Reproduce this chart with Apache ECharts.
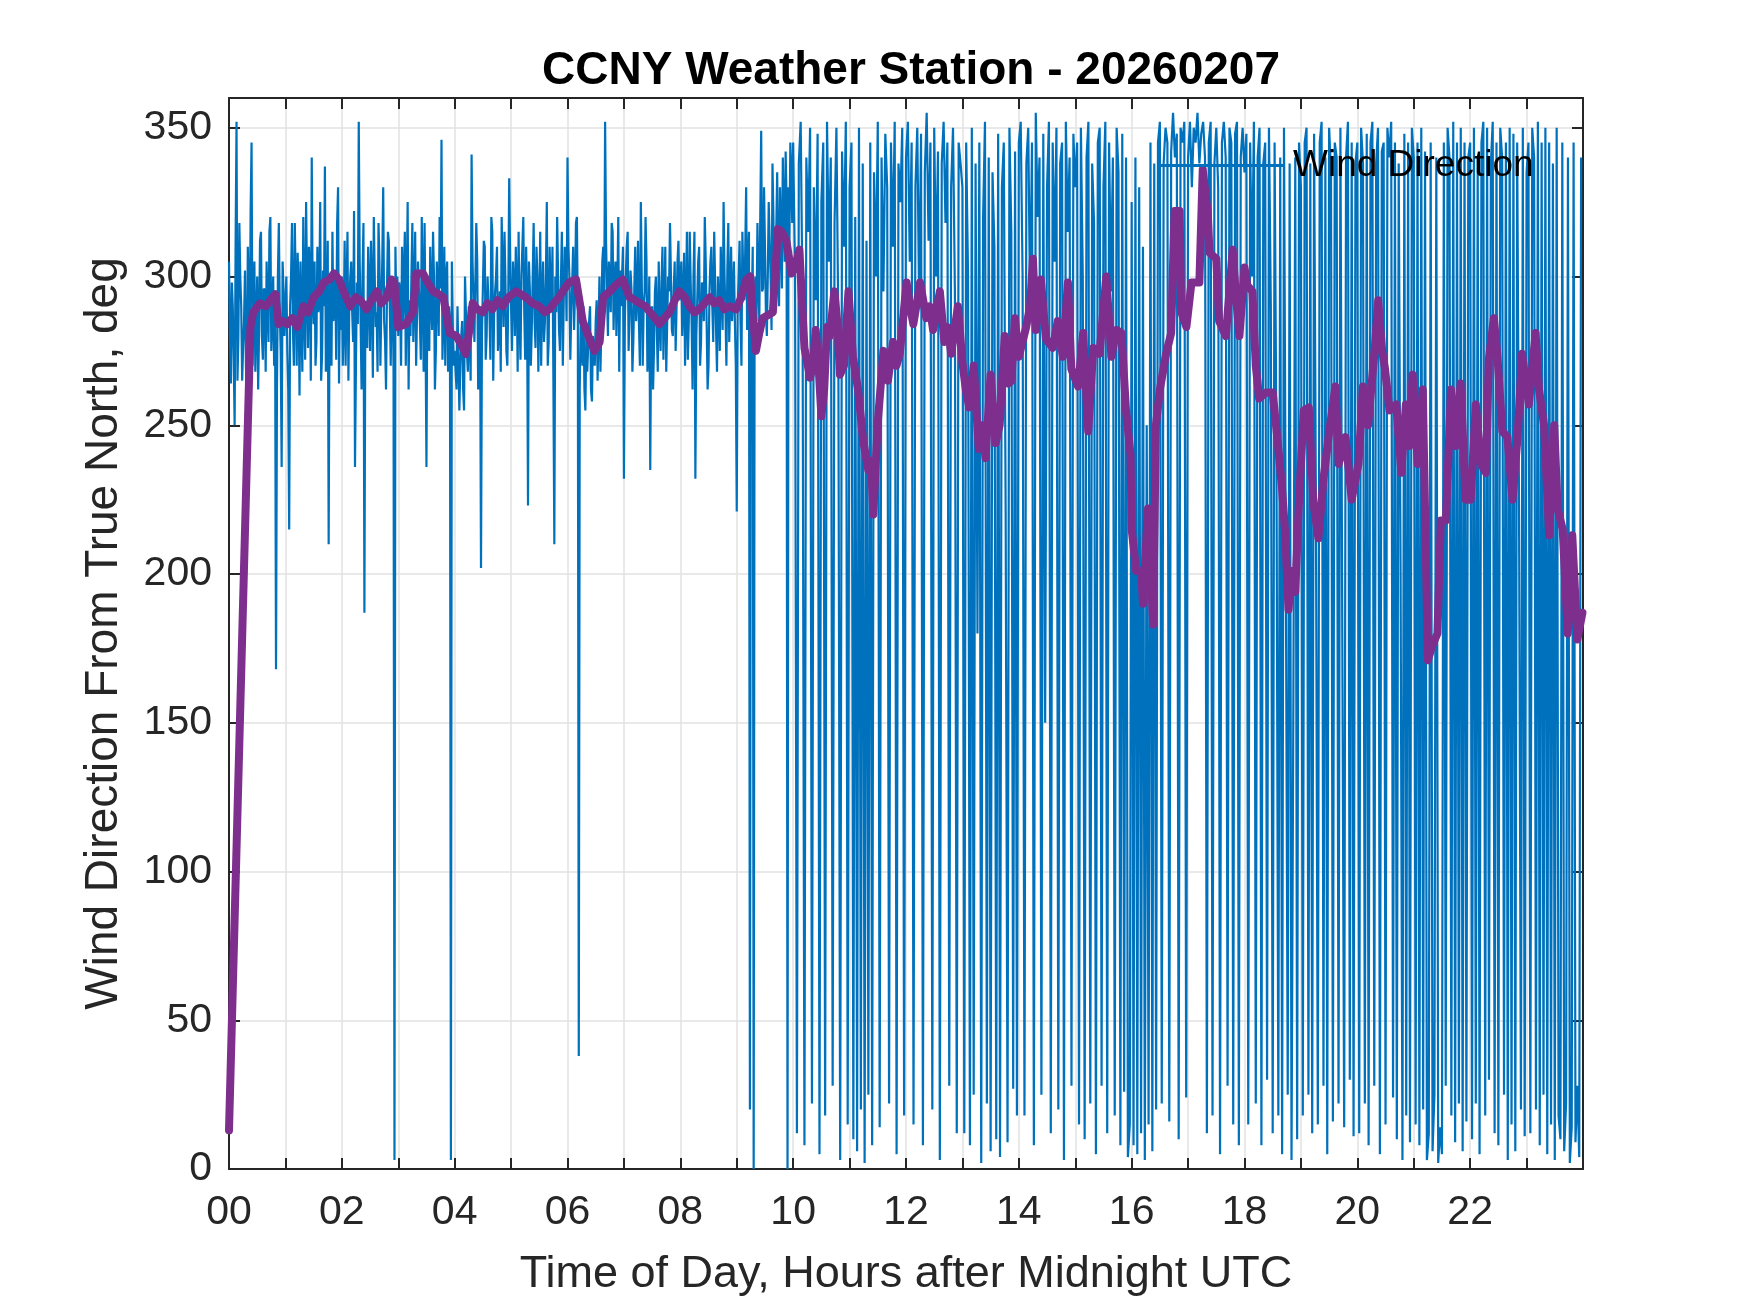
<!DOCTYPE html>
<html><head><meta charset="utf-8">
<script src="https://cdn.jsdelivr.net/npm/echarts@6/dist/echarts.min.js"></script>
<style>html,body{margin:0;padding:0;background:#fff}#c{width:1750px;height:1313px}</style>
</head><body><div id="c"></div>
<script>
const titleText = 'CCNY Weather Station - 20260207';
const xTickLabels = ['00','02','04','06','08','10','12','14','16','18','20','22'];
const yTickLabels = [0,50,100,150,200,250,300,350];

// raw wind direction, 1-minute samples from 00:00 to 09:59
const windDirEarly = [
305,280,264,298,290,272,250,310,352,265,280,318,300,290,265,276,285,302,270,258,310,295,275,322,345,270,290,305,268,285,300,262,282,312,315,280,272,296,295,268,305,290,278,315,320,275,285,300,270,288,168,262,300,318,288,275,236,305,295,280,
290,300,275,262,215,290,300,318,282,270,318,295,270,308,295,260,305,285,268,320,288,272,325,298,276,310,300,265,340,292,284,305,270,278,310,288,292,325,265,274,302,290,337,268,280,312,210,296,298,270,315,285,285,300,272,318,330,264,295,282,
300,270,285,312,270,295,315,265,292,300,305,288,278,322,236,270,298,284,352,305,284,262,300,318,187,290,290,276,310,295,275,312,296,266,320,300,283,288,268,318,305,270,290,305,330,285,278,262,295,315,312,290,270,296,300,268,3,310,288,300,
280,298,295,270,310,285,285,315,270,296,325,262,292,280,300,318,278,292,315,270,288,305,305,285,272,320,296,268,318,282,236,300,290,275,310,292,282,315,300,262,275,305,295,280,320,296,346,272,285,310,270,300,305,268,290,285,3,305,284,270,
275,268,262,290,290,255,270,280,285,262,255,300,300,275,268,290,280,265,341,305,292,278,278,318,305,262,285,290,202,280,296,312,310,272,280,300,290,288,272,320,315,265,288,295,300,310,275,282,295,268,320,300,283,315,298,275,270,292,333,305,
290,275,305,298,280,310,296,268,315,285,272,300,300,320,288,272,310,292,223,305,295,270,282,300,318,285,276,310,300,268,290,315,270,292,305,278,285,300,325,270,278,310,295,288,310,265,210,300,288,320,300,282,275,298,315,270,292,310,305,285,
340,310,300,272,288,298,310,282,295,318,320,285,38,262,285,275,270,290,262,255,280,268,268,285,290,262,258,280,275,270,285,292,265,282,300,268,282,305,310,290,352,312,295,280,305,298,288,318,315,282,298,305,280,296,320,268,302,290,290,310,
232,285,300,310,315,275,288,302,296,268,278,295,310,285,292,312,284,270,325,298,270,290,295,320,305,268,280,300,235,285,290,262,276,295,300,282,268,305,285,275,298,310,272,290,310,268,284,300,295,318,318,282,280,296,305,275,290,305,312,292,
295,305,280,292,308,270,290,315,272,285,315,298,285,262,300,315,232,280,292,305,310,270,278,298,296,285,320,305,284,262,270,295,305,310,290,278,315,298,282,268,300,290,275,310,295,282,325,300,288,270,302,318,278,292,310,285,292,305,285,270,
221,290,300,312,285,270,315,298,292,308,330,282,305,315,20,285,290,310,0,296,300,285,318,300,285,320,349,295,296,330,310,288,280,300,325,312,300,282,338,320,290,300,315,335,305,290,330,315,296,340,320,305,342,325,0,330,310,345,335,318
];
// raw wind direction, 2-minute samples from 10:00 to 23:58
const windDirLate = [
345,300,12,338,352,290,8,340,315,350,22,330,292,348,5,325,345,18,352,305,340,28,318,350,285,3,342,310,352,15,
330,345,10,320,6,350,20,338,2,312,25,345,8,335,300,352,14,340,295,348,330,22,345,310,352,5,338,325,350,18,
340,352,305,345,15,330,350,290,348,8,335,355,312,345,20,350,300,342,3,338,352,318,345,28,330,350,295,12,345,338,
330,12,345,300,8,350,25,338,180,345,2,320,352,22,340,6,335,310,10,348,4,330,345,220,9,350,315,27,342,18,
345,352,300,18,338,350,290,345,8,355,320,340,25,348,150,330,352,12,345,305,350,20,338,345,3,352,315,340,28,348,
330,345,15,350,300,10,340,352,22,338,318,5,345,350,28,330,352,12,345,295,340,18,350,335,8,348,26,340,4,15,
325,8,340,5,330,12,310,3,250,15,345,6,338,20,345,352,22,338,350,345,16,342,355,340,348,10,350,345,352,24,
340,352,330,350,345,355,338,348,352,340,12,345,352,18,338,350,330,5,345,352,340,28,350,345,15,348,352,8,340,350,
335,348,15,345,300,352,22,340,350,8,338,345,30,350,290,12,345,240,18,340,5,350,200,25,338,3,160,340,10,345,
330,18,345,350,25,338,12,348,220,15,345,352,28,340,5,350,335,16,345,340,22,350,180,14,340,352,30,345,11,338,
345,12,350,338,22,348,8,345,352,28,338,350,5,342,345,15,350,340,352,24,345,10,338,200,3,348,18,345,9,350,
340,15,345,8,350,20,342,3,12,345,6,25,340,2,14,5,345,28,350,340,18,352,9,345,22,350,6,345,16,340,
345,10,350,22,340,5,345,352,18,350,30,338,352,12,345,8,350,340,25,345,3,350,15,348,6,345,220,20,350,11,
335,345,12,350,340,20,352,8,345,25,350,5,345,15,338,3,350,18,10,345,6,22,340,2,14,345,9,28,4,340
];
const earlyStepMin = 1;
const lateStartMin = 600;
const lateStepMin = 2;

// smoothed wind direction (purple)
const meanHours = [
0,0.38,0.43,0.55,0.65,0.73,0.82,0.88,0.95,1.03,1.12,1.21,1.32,1.4,1.5,1.6,1.68,1.78,1.86,1.95,
2.03,2.15,2.25,2.33,2.44,2.52,2.62,2.7,2.8,2.88,2.93,3.0,3.14,3.26,3.32,3.44,3.52,3.62,3.72,3.8,3.91,
4.03,4.12,4.2,4.26,4.32,4.4,4.5,4.58,4.67,4.76,4.85,4.95,5.09,5.18,5.26,5.38,5.5,5.6,5.68,5.76,5.85,5.95,
6.03,6.15,6.27,6.39,6.48,6.57,6.63,6.75,6.85,6.98,7.1,7.2,7.28,7.38,7.46,7.55,7.63,7.72,7.81,7.9,7.98,
8.08,8.16,8.25,8.34,8.43,8.52,8.6,8.69,8.78,8.87,8.99,9.08,9.17,9.24,9.28,9.34,9.4,9.46,9.55,9.64,9.73,9.8,9.88,9.97,
10.03,10.11,10.2,10.3,10.35,10.4,10.45,10.5,10.55,10.6,10.65,10.73,10.78,10.83,10.9,10.98,
11.06,11.15,11.24,11.33,11.38,11.42,11.5,11.6,11.68,11.77,11.83,11.89,
12.01,12.07,12.13,12.2,12.25,12.36,12.42,12.48,12.6,12.68,12.74,12.8,12.92,
13.0,13.06,13.12,13.2,13.29,13.35,13.41,13.5,13.59,13.66,13.75,13.82,13.87,13.93,
14.0,14.13,14.2,14.25,14.3,14.39,14.48,14.6,14.69,14.78,14.87,14.93,
15.05,15.14,15.23,15.32,15.43,15.55,15.64,15.73,15.82,15.9,15.98,
16.0,16.08,16.17,16.2,16.29,16.38,16.43,16.5,16.61,16.7,16.76,16.85,16.88,16.97,
17.06,17.2,17.26,17.35,17.38,17.5,17.55,17.67,17.79,17.85,17.91,
18.0,18.05,18.14,18.2,18.26,18.38,18.5,18.58,18.66,18.72,18.78,18.84,18.9,18.96,
19.05,19.14,19.22,19.31,19.4,19.49,19.61,19.67,19.79,19.9,
20.02,20.1,20.19,20.31,20.37,20.44,20.49,20.57,20.69,20.78,20.86,20.92,20.98,
21.07,21.16,21.25,21.33,21.42,21.48,21.57,21.66,21.75,21.83,21.92,
22.01,22.1,22.19,22.28,22.33,22.42,22.48,22.57,22.66,22.75,22.84,22.92,
23.04,23.16,23.22,23.31,23.4,23.49,23.55,23.64,23.73,23.81,23.9,23.99
];
const meanDeg = [
13,283,288,291,290,292,294,284,285,284,286,283,290,288,293,295,298,299,301,299,
295,290,293,292,289,292,295,291,293,299,298,283,284,288,301,301,298,295,294,293,281,
280,277,274,282,291,289,288,291,289,292,290,293,295,294,293,291,290,288,289,291,293,296,
298,299,285,279,275,278,293,295,297,299,293,292,291,290,288,286,284,286,288,292,295,
293,290,288,289,291,293,291,292,289,290,289,293,299,300,288,275,281,286,287,288,316,315,312,301,
303,309,276,266,270,282,270,253,262,283,280,295,285,267,270,295,
273,262,245,235,238,220,251,275,265,278,270,274,
298,290,284,292,298,286,290,282,295,278,283,274,290,
271,262,256,270,242,250,239,267,244,250,280,264,265,286,
273,283,290,306,282,299,279,276,285,273,298,269,
263,281,248,276,274,300,273,282,281,255,240,
215,201,201,190,222,183,250,262,274,281,322,322,288,283,
298,298,336,321,308,306,285,280,309,293,280,
303,297,295,270,259,261,261,246,230,214,188,201,194,222,
255,256,224,212,232,246,263,237,246,225,
237,263,250,276,292,275,269,255,257,234,257,243,267,
237,262,171,176,180,218,218,262,243,264,225,
225,257,237,234,272,286,274,248,246,225,246,274,
257,281,262,250,213,250,222,215,180,213,178,187
];

const windData = windDirEarly.map((v, i) => [i * earlyStepMin / 60, v])
  .concat(windDirLate.map((v, i) => [(lateStartMin + i * lateStepMin) / 60, v]));
const meanData = meanHours.map((h, i) => [h, meanDeg[i]]);

const FONT = 'Liberation Sans, Arial, Helvetica, sans-serif';
const AX = '#262626';
const GRIDC = '#e2e2e2';

const chart = echarts.init(document.getElementById('c'), null, {renderer: 'canvas'});
chart.setOption({
  animation: false,
  backgroundColor: '#ffffff',
  textStyle: {fontFamily: FONT},
  title: {
    text: titleText, left: 906, top: 43, textAlign: 'center',
    textStyle: {fontSize: 46, fontWeight: 'bold', color: '#000', fontFamily: FONT}
  },
  legend: {
    data: ['Wind Direction'], left: 1157, top: 147, padding: 0,
    icon: 'rect', itemWidth: 126, itemHeight: 3, selectedMode: false,
    textStyle: {fontSize: 37, color: '#000', fontFamily: FONT, padding: [0, 0, 0, 5]}
  },
  grid: {left: 229, right: 167, top: 98, bottom: 144, containLabel: false},
  xAxis: [{
    type: 'value', min: 0, max: 24, interval: 1, position: 'bottom',
    name: 'Time of Day, Hours after Midnight UTC', nameLocation: 'middle', nameGap: 83,
    nameTextStyle: {fontSize: 45, color: AX, fontFamily: FONT},
    axisLine: {show: true, onZero: false, lineStyle: {color: AX, width: 2}},
    axisTick: {show: true, inside: true, length: 11, lineStyle: {color: AX, width: 2}},
    axisLabel: {
      show: true, margin: 23, fontSize: 41, color: AX, fontFamily: FONT,
      showMinLabel: true, showMaxLabel: true,
      formatter: v => (Number.isInteger(v) && v % 2 === 0 && v < 24) ? xTickLabels[v / 2] : ''
    },
    splitLine: {show: true, lineStyle: {color: GRIDC, width: 1.5}}
  }, {
    type: 'value', min: 0, max: 24, interval: 1, position: 'top',
    axisLine: {show: true, onZero: false, lineStyle: {color: AX, width: 2}},
    axisTick: {show: true, inside: true, length: 11, lineStyle: {color: AX, width: 2}},
    axisLabel: {show: false}, splitLine: {show: false}
  }],
  yAxis: [{
    type: 'value', min: 0, max: 360, interval: 50, position: 'left',
    name: 'Wind Direction From True North, deg', nameLocation: 'middle', nameGap: 102,
    nameTextStyle: {fontSize: 46, color: AX, fontFamily: FONT},
    axisLine: {show: true, onZero: false, lineStyle: {color: AX, width: 2}},
    axisTick: {show: true, inside: true, length: 11, lineStyle: {color: AX, width: 2}},
    axisLabel: {
      show: true, margin: 17, fontSize: 41, color: AX, fontFamily: FONT,
      formatter: v => yTickLabels.indexOf(v) >= 0 ? String(v) : ''
    },
    splitLine: {show: true, lineStyle: {color: GRIDC, width: 1.5}}
  }, {
    type: 'value', min: 0, max: 360, interval: 50, position: 'right',
    axisLine: {show: true, onZero: false, lineStyle: {color: AX, width: 2}},
    axisTick: {show: true, inside: true, length: 11, lineStyle: {color: AX, width: 2}},
    axisLabel: {show: false}, splitLine: {show: false}
  }],
  series: [{
    name: 'Wind Direction', type: 'line', xAxisIndex: 0, yAxisIndex: 0,
    data: windData, symbol: 'none', showSymbol: false,
    lineStyle: {color: '#0072BD', width: 2.2}, itemStyle: {color: '#0072BD'}, z: 2
  }, {
    name: 'Mean Direction', type: 'line', xAxisIndex: 0, yAxisIndex: 0,
    data: meanData, symbol: 'none', showSymbol: false,
    lineStyle: {color: '#7E2F8E', width: 8, join: 'round', cap: 'round'},
    itemStyle: {color: '#7E2F8E'}, z: 3
  }]
});
</script>
</body></html>
